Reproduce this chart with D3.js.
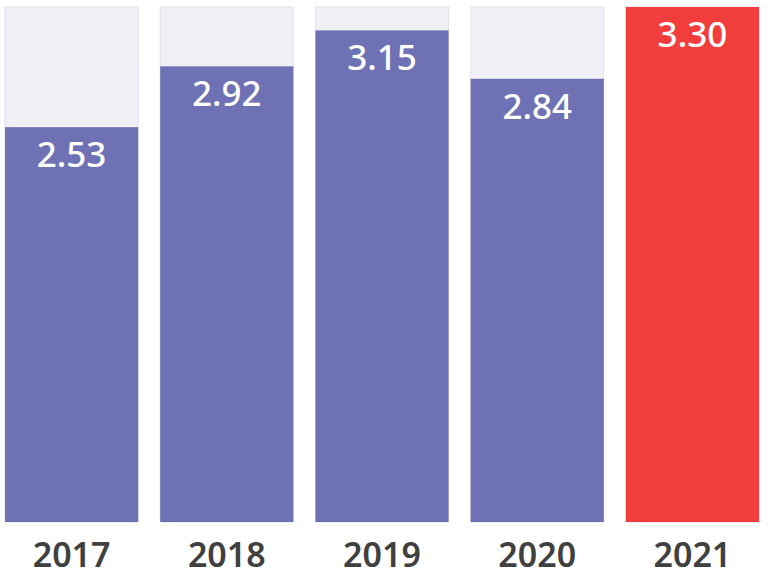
<!DOCTYPE html>
<html><head><meta charset="utf-8">
<script src="https://cdn.jsdelivr.net/npm/d3@7"></script>
<style>body{margin:0;background:#fff}svg{display:block}</style>
</head><body>
<script>
const years = ["2017","2018","2019","2020","2021"];
const values = [2.53, 2.92, 3.15, 2.84, 3.30];
const maxValue = 3.30;

const W = 768, H = 576;
const svg = d3.select("body").append("svg").attr("width", W).attr("height", H);
const x = d3.scaleBand().domain(years).range([5, 759]).paddingInner(0.142).paddingOuter(0);
const y = d3.scaleLinear().domain([0, maxValue]).range([522, 7]);

svg.selectAll("rect.bg").data(years).join("rect")
  .attr("class","bg")
  .attr("x", d => x(d)).attr("width", x.bandwidth())
  .attr("y", y(maxValue)).attr("height", y(0) - y(maxValue))
  .attr("fill", "#f0eff6").attr("stroke", "#e2e2ea").attr("stroke-width", 1);

svg.selectAll("rect.bar").data(values).join("rect")
  .attr("class","bar")
  .attr("x", (d,i) => x(years[i])).attr("width", x.bandwidth())
  .attr("y", d => y(d)).attr("height", d => y(0) - y(d))
  .attr("fill", (d,i) => i === years.length - 1 ? "#f23d3d" : "#6e72b4");

svg.selectAll("text.val").data(values).join("text")
  .attr("class","val")
  .attr("x", (d,i) => x(years[i]) + x.bandwidth()/2)
  .attr("y", d => y(d) + 40)
  .attr("text-anchor","middle")
  .attr("font-family","'Noto Sans', 'Open Sans', sans-serif")
  .attr("font-size", 35)
  .attr("font-weight", 500)
  .attr("fill","#ffffff")
  .text(d => d.toFixed(2));

const xAxis = svg.append("g").attr("transform", `translate(0,${y(0)})`)
  .call(d3.axisBottom(x).tickSize(0).tickPadding(0));
xAxis.select(".domain").remove();
xAxis.selectAll("text")
  .attr("dy", 0).attr("y", 45)
  .attr("font-family","'Noto Sans', 'Open Sans', sans-serif")
  .attr("font-size", 34)
  .attr("font-weight", 600)
  .attr("fill","#404040");
</script>
</body></html>
